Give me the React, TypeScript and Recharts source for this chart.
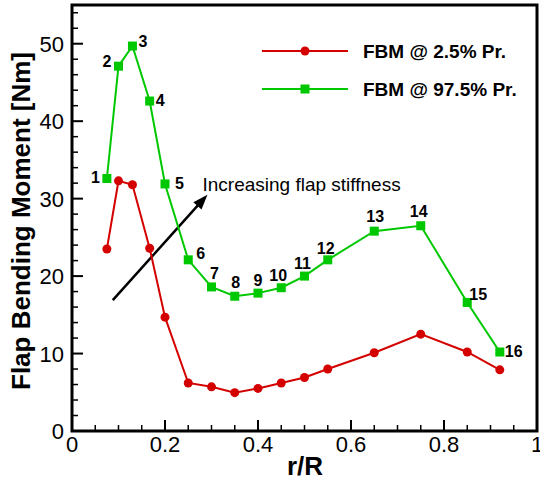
import React from 'react';
import {
  LineChart,
  Line,
  XAxis,
  YAxis,
  Legend,
  LabelList,
  ReferenceArea,
  ReferenceLine,
} from 'recharts';

// radial stations r/R
const rR = [0.075, 0.1, 0.13, 0.167, 0.2, 0.25, 0.3, 0.35, 0.4, 0.45, 0.5, 0.55, 0.65, 0.75, 0.85, 0.92];
// flap bending moment [Nm] at 2.5% and 97.5% probability
const fbmLow = [23.5, 32.3, 31.8, 23.6, 14.7, 6.2, 5.7, 4.95, 5.5, 6.2, 6.9, 8.0, 10.1, 12.5, 10.2, 7.9];
const fbmHigh = [32.6, 47.1, 49.7, 42.6, 31.9, 22.1, 18.6, 17.4, 17.8, 18.5, 20.0, 22.1, 25.8, 26.5, 16.6, 10.2];
const stationLabels = ['1', '2', '3', '4', '5', '6', '7', '8', '9', '10', '11', '12', '13', '14', '15', '16'];

const xTicks = [0, 0.05, 0.1, 0.15, 0.2, 0.25, 0.3, 0.35, 0.4, 0.45, 0.5, 0.55, 0.6, 0.65, 0.7, 0.75, 0.8, 0.85, 0.9, 0.95, 1];
const yTicks = [0, 2, 4, 6, 8, 10, 12, 14, 16, 18, 20, 22, 24, 26, 28, 30, 32, 34, 36, 38, 40, 42, 44, 46, 48, 50, 52, 54];

// arrow annotation, start and tip in data units
const arrowSegment = [
  { x: 0.0877, y: 16.9 },
  { x: 0.2913, y: 30.5 },
];

const RED = '#d40000';
const GREEN = '#00c800';
const FONT = '"Liberation Sans", Arial, Helvetica, sans-serif';

// label placement around each green point: dx, dy, anchor
const labelPlace: [number, number, string][] = [
  [-7, 5, 'end'],
  [-7, 1, 'end'],
  [6, 1, 'start'],
  [6, 5, 'start'],
  [10, 5, 'start'],
  [8, -1, 'start'],
  [3, -8, 'middle'],
  [1, -8, 'middle'],
  [0, -7, 'middle'],
  [-3, -7, 'middle'],
  [-2, -7, 'middle'],
  [-2, -6, 'middle'],
  [1, -9, 'middle'],
  [-2, -9, 'middle'],
  [2, -2, 'start'],
  [5, 5, 'start'],
];

const data = rR.map((r, i) => ({ r, low: fbmLow[i], high: fbmHigh[i] }));

const isMajor = (v: number, step: number) => Math.abs(v / step - Math.round(v / step)) < 1e-6;

const XTick = (props: any) => {
  const { x, y, payload } = props;
  const v = payload.value;
  const major = isMajor(v, 0.2);
  const txt = v === 0 ? '0' : v === 1 ? '1' : v.toFixed(1);
  return (
    <g>
      <line x1={x} x2={x} y1={y} y2={y - (major ? 11 : 6)} stroke="#000" strokeWidth={major ? 2 : 1.5} />
      {major && (
        <text x={x} y={y + 21} textAnchor="middle" fontSize={22} fontFamily={FONT} fill="#000">
          {txt}
        </text>
      )}
    </g>
  );
};

const YTick = (props: any) => {
  const { x, y, payload } = props;
  const v = payload.value;
  const major = isMajor(v, 10);
  return (
    <g>
      <line x1={x} x2={x + (major ? 11 : 6)} y1={y} y2={y} stroke="#000" strokeWidth={major ? 2 : 1.5} />
      {major && (
        <text x={x - 8} y={y + 8} textAnchor="end" fontSize={22} fontFamily={FONT} fill="#000">
          {v}
        </text>
      )}
    </g>
  );
};

const SquareDot = (props: any) => {
  const { cx, cy } = props;
  if (cx == null || cy == null) return null;
  return <rect x={cx - 4.5} y={cy - 4.5} width={9} height={9} fill={GREEN} />;
};

const CircleDot = (props: any) => {
  const { cx, cy } = props;
  if (cx == null || cy == null) return null;
  return <circle cx={cx} cy={cy} r={4.5} fill={RED} />;
};

const StationLabel = (props: any) => {
  const { x, y, index } = props;
  const [dx, dy, anchor] = labelPlace[index];
  return (
    <text
      x={x + dx}
      y={y + dy}
      textAnchor={anchor as any}
      fontSize={16}
      fontWeight="bold"
      fontFamily={FONT}
      fill="#000"
    >
      {stationLabels[index]}
    </text>
  );
};

const Arrow = (props: any) => {
  const { x1, y1, x2, y2 } = props;
  const len = Math.hypot(x2 - x1, y2 - y1);
  const ux = (x2 - x1) / len;
  const uy = (y2 - y1) / len;
  const hl = 15;
  const hw = 5.5;
  const bx = x2 - ux * hl;
  const by = y2 - uy * hl;
  const pts = `${x2},${y2} ${bx - uy * hw},${by + ux * hw} ${bx + uy * hw},${by - ux * hw}`;
  return (
    <g>
      <line x1={x1} y1={y1} x2={bx + ux * 2} y2={by + uy * 2} stroke="#000" strokeWidth={2.5} />
      <polygon points={pts} fill="#000" />
      <text x={x2 - 5} y={y2 - 4} fontSize={19} fontFamily={FONT} fill="#000">
        Increasing flap stiffness
      </text>
    </g>
  );
};

const LegendBox = (props: any) => {
  const items = props.payload || [];
  return (
    <svg width={275} height={80} style={{ overflow: 'visible' }}>
      {items.map((it: any, i: number) => {
        const y = 21 + i * 38;
        return (
          <g key={`leg-${i}`}>
            <line x1={0} x2={86} y1={y} y2={y} stroke={it.color} strokeWidth={2} />
            {i === 0 ? (
              <circle cx={43} cy={y} r={4.5} fill={it.color} />
            ) : (
              <rect x={38.5} y={y - 4.5} width={9} height={9} fill={it.color} />
            )}
            <text x={101} y={y + 7} fontSize={19} fontWeight="bold" fontFamily={FONT} fill="#000">
              {it.value}
            </text>
          </g>
        );
      })}
    </svg>
  );
};

const App = () => {
  return (
    <div style={{ position: 'absolute', left: 0, top: 0, background: '#fff' }}>
      <LineChart width={540} height={481} data={data} margin={{ top: 5, right: 3, bottom: 0, left: 0 }}>
        <XAxis
          dataKey="r"
          type="number"
          domain={[0, 1]}
          ticks={xTicks}
          interval={0}
          axisLine={false}
          tickLine={false}
          tickSize={0}
          tickMargin={0}
          height={50}
          tick={(p: any) => <XTick {...p} />}
          label={{
            content: () => (
              <text x={305} y={475} textAnchor="middle" fontSize={26} fontWeight="bold" fontFamily={FONT} fill="#000">
                r/R
              </text>
            ),
          }}
        />
        <YAxis
          type="number"
          domain={[0, 55]}
          ticks={yTicks}
          interval={0}
          axisLine={false}
          tickLine={false}
          tickSize={0}
          tickMargin={0}
          width={72}
          tick={(p: any) => <YTick {...p} />}
          label={{
            content: () => (
              <text
                x={30}
                y={221}
                transform="rotate(-90 30 221)"
                textAnchor="middle"
                fontSize={26}
                fontWeight="bold"
                fontFamily={FONT}
                fill="#000"
              >
                Flap Bending Moment [Nm]
              </text>
            ),
          }}
        />
        <ReferenceArea x1={0} x2={1} y1={0} y2={55} fill="none" stroke="#000" strokeWidth={3} />
        <ReferenceLine segment={arrowSegment} shape={(p: any) => <Arrow {...p} />} />
        <Line
          type="linear"
          dataKey="low"
          name="FBM @ 2.5% Pr."
          stroke={RED}
          strokeWidth={2}
          dot={(p: any) => <CircleDot key={`c-${p.index}`} {...p} />}
          activeDot={false}
          isAnimationActive={false}
        />
        <Line
          type="linear"
          dataKey="high"
          name="FBM @ 97.5% Pr."
          stroke={GREEN}
          strokeWidth={2}
          dot={(p: any) => <SquareDot key={`s-${p.index}`} {...p} />}
          activeDot={false}
          isAnimationActive={false}
        >
          <LabelList dataKey="high" content={(p: any) => <StationLabel {...p} />} />
        </Line>
        <Legend
          layout="horizontal"
          align="center"
          verticalAlign="middle"
          width={275}
          height={80}
          wrapperStyle={{ left: 262, top: 30, width: 275, height: 80 }}
          content={(p: any) => <LegendBox {...p} />}
        />
      </LineChart>
    </div>
  );
};

export default App;
